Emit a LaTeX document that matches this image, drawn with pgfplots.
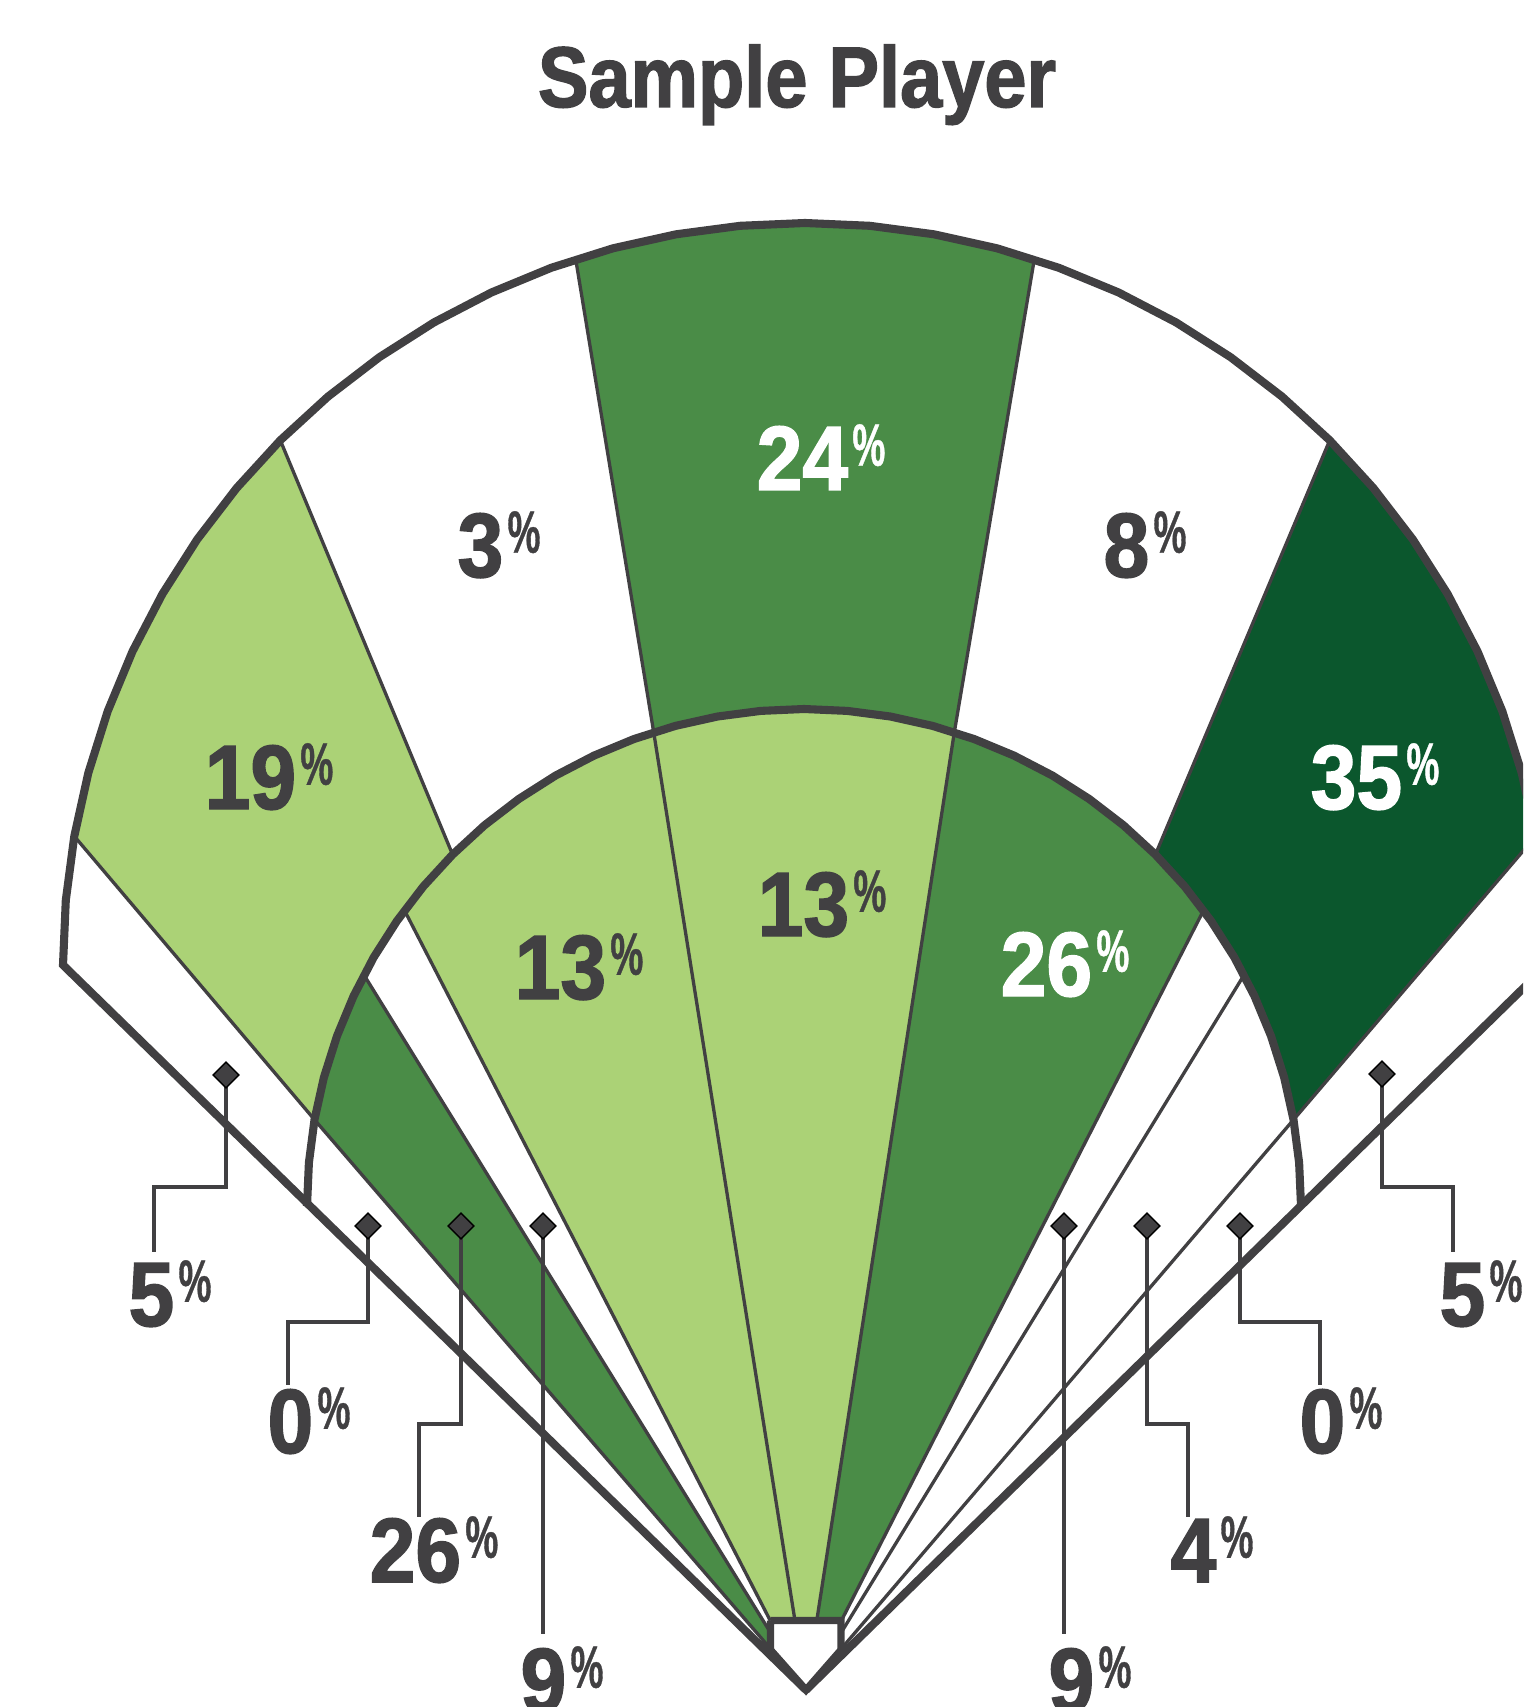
\documentclass[border=0pt]{standalone}
\usepackage{pgfplots}
\pgfplotsset{compat=1.18}
\usepackage{fontspec}
\setmainfont{Liberation Sans}
\newfontfamily\numfont{Liberation Sans}[FakeStretch=0.90, FakeBold=1.6]
\newfontfamily\pctfont{Liberation Sans}[FakeStretch=0.62, FakeBold=0.6]
\newfontfamily\titlefont{Liberation Sans}[FakeStretch=0.88, FakeBold=1.6]

\definecolor{lg}{HTML}{ABD276}
\definecolor{mg}{HTML}{4A8C47}
\definecolor{dg}{HTML}{0B572D}
\definecolor{ink}{HTML}{414042}

% value with the small raised percent sign
\newcommand{\pv}[1]{{\numfont\bfseries\fontsize{26}{26}\selectfont #1\kern1.2pt\raisebox{6.9pt}{\pctfont\bfseries\fontsize{17}{17}\selectfont\%}}}

\begin{document}
\begin{tikzpicture}
\begin{axis}[
  scale only axis, width=15.23cm, height=17.07cm,
  xmin=0, xmax=1523, ymin=0, ymax=1707, y dir=reverse,
  hide axis, clip=true,
  thin line/.style={ink, line width=0.94pt},
  thick line/.style={ink, line width=2.3pt, line join=miter},
]
% ---- outfield zones (between the two arcs)
\addplot[fill=lg, draw=none] coordinates {
  (74.3,836.2) (88.3,773.0) (107.7,711.2) (132.5,651.4) (162.4,594.0) (197.2,539.4) (236.6,488.1) (280.3,440.3)
  (452.6,854.6) (423.3,886.5) (396.9,921.0) (373.6,957.5) (353.6,996.0) (337.0,1036.0) (323.9,1077.4) (314.5,1119.7)};
\addplot[fill=mg, draw=none] coordinates {
  (575.7,259.3) (613.0,248.3) (676.1,234.3) (740.3,225.8) (805,223) (869.7,225.8) (933.9,234.3) (997.0,248.3) (1034.3,259.3)
  (954.3,732.3) (932.6,725.9) (890.3,716.5) (847.3,710.9) (804,709) (760.7,710.9) (717.7,716.5) (675.4,725.9) (653.7,732.3)};
\addplot[fill=dg, draw=none] coordinates {
  (1329.7,440.3) (1373.4,488.1) (1412.8,539.4) (1447.6,594.0) (1477.5,651.4) (1502.3,711.2) (1521.7,773.0) (1535.7,836.2)
  (1293.5,1119.7) (1284.1,1077.4) (1271.0,1036.0) (1254.4,996.0) (1234.4,957.5) (1211.1,921.0) (1184.7,886.5) (1155.4,854.6)};
% ---- infield zones (home plate to inner arc)
\addplot[fill=mg, draw=none] coordinates {
  (806,1690) (314.5,1119.7) (323.9,1077.4) (337.0,1036.0) (353.6,996.0) (364.0,975.0)};
\addplot[fill=lg, draw=none] coordinates {
  (806,1690) (404.5,910.4) (423.3,886.5) (452.6,854.6) (484.5,825.3) (518.9,798.9) (555.5,775.6) (594.0,755.6)
  (634.0,739.0) (675.4,725.9) (717.7,716.5) (760.7,710.9) (804,709) (847.3,710.9) (890.3,716.5) (932.6,725.9) (954.3,732.3)};
\addplot[fill=mg, draw=none] coordinates {
  (806,1690) (954.3,732.3) (974.0,739.0) (1014.0,755.6) (1052.5,775.6) (1089.1,798.9) (1123.5,825.3) (1155.4,854.6)
  (1184.7,886.5) (1203.5,910.4)};
% ---- dividers
\addplot[thin line] coordinates {(74.3,836.2) (314.5,1119.7) (806,1690)};
\addplot[thin line] coordinates {(280.3,440.3) (452.6,854.6)};
\addplot[thin line] coordinates {(575.7,259.3) (653.7,732.3) (806,1690)};
\addplot[thin line] coordinates {(1034.3,259.3) (954.3,732.3) (806,1690)};
\addplot[thin line] coordinates {(1329.7,440.3) (1155.4,854.6)};
\addplot[thin line] coordinates {(1535.7,836.2) (1293.5,1119.7) (806,1690)};
\addplot[thin line] coordinates {(364.0,975.0) (806,1690)};
\addplot[thin line] coordinates {(404.5,910.4) (806,1690)};
\addplot[thin line] coordinates {(1203.5,910.4) (806,1690)};
\addplot[thin line] coordinates {(1244.0,975.0) (806,1690)};
% ---- inner arc
\addplot[thick line] coordinates {
  (307,1206) (308.9,1162.7) (314.5,1119.7) (323.9,1077.4) (337.0,1036.0) (353.6,996.0) (373.6,957.5) (396.9,921.0)
  (423.3,886.5) (452.6,854.6) (484.5,825.3) (518.9,798.9) (555.5,775.6) (594.0,755.6) (634.0,739.0) (675.4,725.9)
  (717.7,716.5) (760.7,710.9) (804,709) (847.3,710.9) (890.3,716.5) (932.6,725.9) (974.0,739.0) (1014.0,755.6)
  (1052.5,775.6) (1089.1,798.9) (1123.5,825.3) (1155.4,854.6) (1184.7,886.5) (1211.1,921.0) (1234.4,957.5)
  (1254.4,996.0) (1271.0,1036.0) (1284.1,1077.4) (1293.5,1119.7) (1299.1,1162.7) (1301,1206)};
% ---- foul lines and outer fence
\addplot[thick line] coordinates {
  (806,1690) (63,965) (65.8,900.3) (74.3,836.2) (88.3,773.0) (107.7,711.2) (132.5,651.4) (162.4,594.0) (197.2,539.4)
  (236.6,488.1) (280.3,440.3) (328.0,396.6) (379.4,357.2) (434.0,322.4) (491.4,292.5) (551.2,267.8) (613.0,248.3)
  (676.1,234.3) (740.3,225.8) (805,223) (869.7,225.8) (933.9,234.3) (997.0,248.3) (1058.8,267.8) (1118.6,292.5)
  (1176.0,322.4) (1230.6,357.2) (1282.0,396.6) (1329.7,440.3) (1373.4,488.1) (1412.8,539.4) (1447.6,594.0)
  (1477.5,651.4) (1502.3,711.2) (1521.7,773.0) (1535.7,836.2) (1544.2,900.3) (1547,965) (806,1690)};
% ---- home plate
\addplot[fill=white, draw=ink, line width=2.1pt, line join=miter] coordinates {
  (770.5,1620.5) (841,1620.5) (841,1650) (806,1690) (770.5,1650) (770.5,1620.5)};
% ---- callouts
\addplot[thin line] coordinates {(226,1075) (226,1187) (154,1187) (154,1252)};
\addplot[thin line] coordinates {(368,1226) (368,1322) (288,1322) (288,1385)};
\addplot[thin line] coordinates {(461,1226) (461,1424) (419,1424) (419,1517)};
\addplot[thin line] coordinates {(543,1226) (543,1634)};
\addplot[thin line] coordinates {(1064,1226) (1064,1634)};
\addplot[thin line] coordinates {(1147,1226) (1147,1424) (1188,1424) (1188,1517)};
\addplot[thin line] coordinates {(1240,1226) (1240,1322) (1320,1322) (1320,1385)};
\addplot[thin line] coordinates {(1382,1074) (1382,1187) (1453,1187) (1453,1252)};
\addplot[only marks, mark=square*, mark size=2.6pt, mark options={rotate=45, fill=ink, draw=none}] coordinates {
  (226,1075) (368,1226) (461,1226) (543,1226) (1064,1226) (1147,1226) (1240,1226) (1382,1074)};
% ---- labels
\node[anchor=base, text=ink] at (axis cs:797,107) {\titlefont\bfseries\fontsize{24.5}{24.5}\selectfont Sample Player};
\node[anchor=base, text=ink] at (axis cs:269,809) {\pv{19}};
\node[anchor=base, text=ink] at (axis cs:499,577) {\pv{3}};
\node[anchor=base, text=white] at (axis cs:821,490) {\pv{24}};
\node[anchor=base, text=ink] at (axis cs:1145,577) {\pv{8}};
\node[anchor=base, text=white] at (axis cs:1375,809) {\pv{35}};
\node[anchor=base, text=ink] at (axis cs:579,999) {\pv{13}};
\node[anchor=base, text=ink] at (axis cs:822,936) {\pv{13}};
\node[anchor=base, text=white] at (axis cs:1065,996) {\pv{26}};
\node[anchor=base, text=ink] at (axis cs:170,1326) {\pv{5}};
\node[anchor=base, text=ink] at (axis cs:309,1453) {\pv{0}};
\node[anchor=base, text=ink] at (axis cs:434,1582) {\pv{26}};
\node[anchor=base, text=ink] at (axis cs:562,1712) {\pv{9}};
\node[anchor=base, text=ink] at (axis cs:1090,1712) {\pv{9}};
\node[anchor=base, text=ink] at (axis cs:1212,1582) {\pv{4}};
\node[anchor=base, text=ink] at (axis cs:1341,1453) {\pv{0}};
\node[anchor=base, text=ink] at (axis cs:1481,1326) {\pv{5}};
\end{axis}
\pgfresetboundingbox
\path[use as bounding box] (current axis.south west) rectangle (current axis.north east);
\end{tikzpicture}
\end{document}
